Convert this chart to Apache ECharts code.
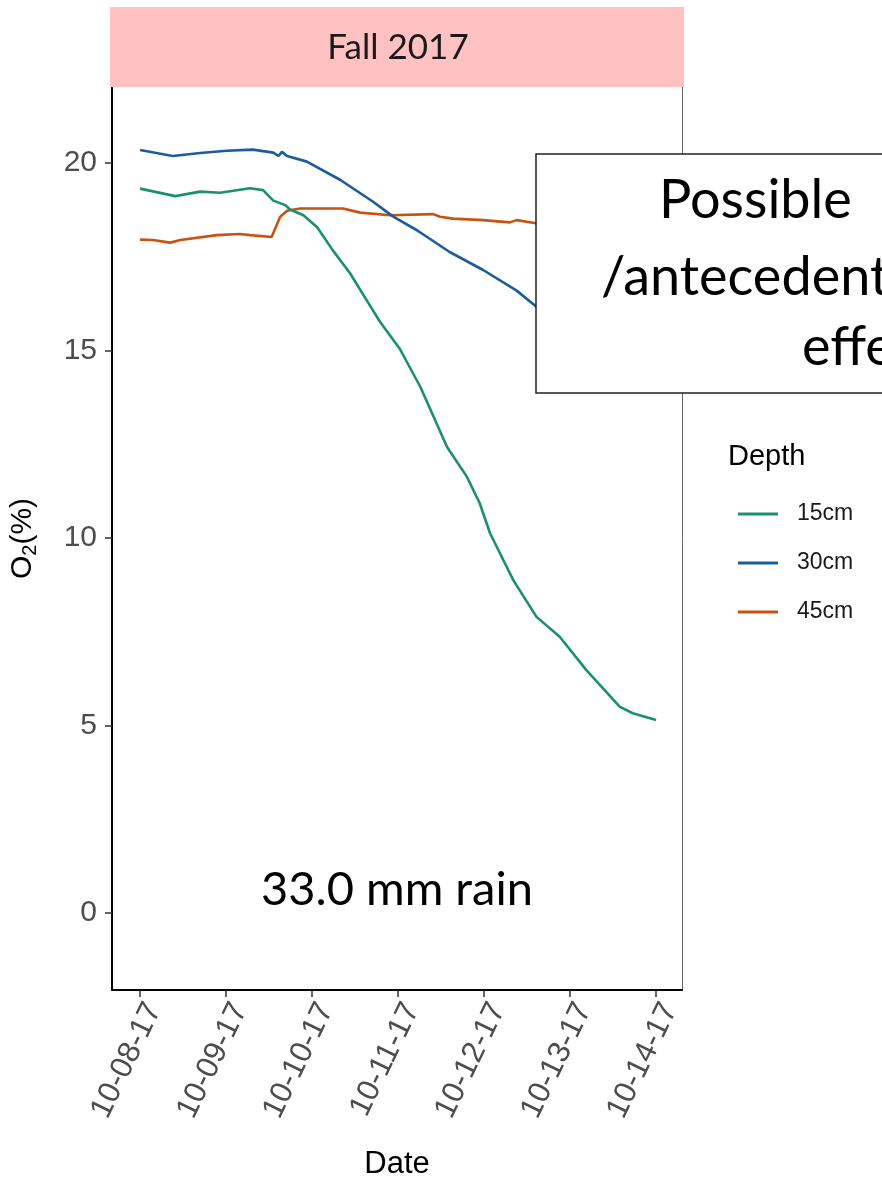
<!DOCTYPE html>
<html>
<head>
<meta charset="utf-8">
<script src="https://cdn.jsdelivr.net/npm/echarts@6/dist/echarts.min.js"></script>
<style>
  html, body { margin: 0; padding: 0; background: #fff; }
  #chart { width: 882px; height: 1182px; }
</style>
</head>
<body>
<div id="chart"></div>
<script>
// tick labels (days after 10-08-17)
const dateLabels = ['10-08-17', '10-09-17', '10-10-17', '10-11-17', '10-12-17', '10-13-17', '10-14-17'];
const dateTicks = [0, 1, 2, 3, 4, 5, 6];
const o2Ticks = [0, 5, 10, 15, 20];

// 15cm
const days15 = [0.00, 0.41, 0.70, 0.93, 1.28, 1.43, 1.55, 1.69, 1.74, 1.90, 2.06, 2.24, 2.44, 2.62, 2.79, 3.02, 3.26, 3.57, 3.80, 3.95, 4.07, 4.34, 4.61, 4.88, 5.19, 5.58, 5.73, 6.00];
const o2_15 = [19.32, 19.12, 19.24, 19.21, 19.33, 19.28, 19.00, 18.88, 18.77, 18.61, 18.29, 17.68, 17.07, 16.40, 15.77, 15.05, 14.03, 12.43, 11.64, 10.93, 10.13, 8.88, 7.90, 7.37, 6.48, 5.50, 5.33, 5.15];

// 30cm
const days30 = [0.00, 0.38, 0.70, 1.01, 1.31, 1.55, 1.61, 1.65, 1.71, 1.94, 2.33, 2.71, 2.94, 3.22, 3.60, 3.99, 4.38, 4.62];
const o2_30 = [20.35, 20.19, 20.27, 20.33, 20.36, 20.28, 20.19, 20.30, 20.19, 20.04, 19.55, 18.97, 18.58, 18.21, 17.63, 17.15, 16.60, 16.15];

// 45cm
const days45 = [0.00, 0.15, 0.35, 0.47, 0.89, 1.16, 1.28, 1.53, 1.63, 1.71, 1.86, 2.36, 2.56, 2.91, 3.41, 3.49, 3.64, 3.99, 4.30, 4.38, 4.62];
const o2_45 = [17.96, 17.95, 17.88, 17.95, 18.08, 18.11, 18.08, 18.03, 18.57, 18.73, 18.79, 18.79, 18.68, 18.61, 18.64, 18.57, 18.52, 18.48, 18.42, 18.48, 18.39];

const depthNames = ['15cm', '30cm', '45cm'];
const depthColors = ['#1b9070', '#1d5c9c', '#c9520f'];

function pairs(xs, ys) {
  return xs.map((x, i) => [x, ys[i]]);
}

const chart = echarts.init(document.getElementById('chart'));

const sansFont = '"Liberation Sans", Arial, sans-serif';
const calibriLike = 'Lato, "Open Sans", sans-serif';

chart.setOption({
  backgroundColor: '#fff',
  animation: false,
  grid: { left: 112, right: 200, top: 87, bottom: 192, outerBoundsMode: 'none', containLabel: false },
  xAxis: {
    type: 'value',
    min: -0.326,
    max: 6.302,
    name: 'Date',
    nameLocation: 'middle',
    nameGap: 159,
    nameTextStyle: { fontFamily: sansFont, fontSize: 31, color: '#000' },
    splitLine: { show: false },
    axisLine: { show: true, onZero: false, lineStyle: { color: '#000', width: 2 } },
    axisTick: { show: true, customValues: dateTicks, length: 7, lineStyle: { color: '#333', width: 1.5 } },
    axisLabel: {
      customValues: dateTicks,
      formatter: v => dateLabels[Math.round(v)],
      rotate: 64,
      align: 'right',
      verticalAlign: 'top',
      margin: 8,
      fontFamily: sansFont,
      fontSize: 31,
      color: '#4d4d4d'
    }
  },
  yAxis: [
    {
      type: 'value',
      min: -2.05,
      max: 22.03,
      name: '{o|O}{s|2}{o|(%)}',
      nameLocation: 'middle',
      nameRotate: 90,
      nameGap: 72,
      nameTextStyle: {
        rich: {
          o: { fontFamily: sansFont, fontSize: 30, color: '#000' },
          s: { fontFamily: sansFont, fontSize: 20, color: '#000', padding: [14, 0, 0, 0] }
        }
      },
      splitLine: { show: false },
      axisLine: { show: true, onZero: false, lineStyle: { color: '#000', width: 2 } },
      axisTick: { show: true, customValues: o2Ticks, length: 7, lineStyle: { color: '#333', width: 1.5 } },
      axisLabel: {
        customValues: o2Ticks,
        margin: 15,
        fontFamily: sansFont,
        fontSize: 30,
        color: '#4d4d4d'
      }
    },
    {
      type: 'value',
      position: 'right',
      min: -2.05,
      max: 22.03,
      splitLine: { show: false },
      axisLine: { show: true, onZero: false, lineStyle: { color: '#666', width: 1 } },
      axisTick: { show: false },
      axisLabel: { show: false }
    }
  ],
  legend: {
    orient: 'vertical',
    left: 733,
    top: 497,
    icon: 'rect',
    itemWidth: 40,
    itemHeight: 3,
    itemGap: 25,
    data: depthNames,
    textStyle: { fontFamily: sansFont, fontSize: 23, lineHeight: 24, color: '#1a1a1a', padding: [0, 0, 0, 14] }
  },
  series: [
    { name: depthNames[0], type: 'line', data: pairs(days15, o2_15) },
    { name: depthNames[1], type: 'line', data: pairs(days30, o2_30) },
    { name: depthNames[2], type: 'line', data: pairs(days45, o2_45) }
  ].map((s, i) => Object.assign(s, {
    symbol: 'none',
    showSymbol: false,
    color: depthColors[i],
    lineStyle: { color: depthColors[i], width: 2.6 },
    z: 3 - i
  })),
  graphic: [
    // facet strip
    { type: 'rect', shape: { x: 110, y: 7, width: 574, height: 80 }, style: { fill: '#ffc1c1' }, z: 50 },
    { type: 'text', x: 398, y: 48, style: { text: 'Fall 2017', font: '35px ' + calibriLike, fill: '#1a1a1a', align: 'center', verticalAlign: 'middle' }, z: 51 },
    // annotation
    { type: 'text', x: 397, y: 890, style: { text: '33.0 mm rain', font: '47px ' + calibriLike, fill: '#000', align: 'center', verticalAlign: 'middle' }, z: 51 },
    // legend title
    { type: 'text', x: 728, y: 457, style: { text: 'Depth', font: '29px ' + sansFont, fill: '#000', align: 'left', verticalAlign: 'middle' }, z: 51 },
    // overlaid text box
    { type: 'rect', shape: { x: 536, y: 154, width: 380, height: 239 }, style: { fill: '#fff', stroke: '#222', lineWidth: 1.5 }, z: 100 },
    { type: 'text', x: 659, y: 201, style: { text: 'Possible', font: '54px ' + calibriLike, fill: '#000', align: 'left', verticalAlign: 'middle' }, z: 101 },
    { type: 'text', x: 601, y: 278, style: { text: '/antecedent', font: '54px ' + calibriLike, fill: '#000', align: 'left', verticalAlign: 'middle' }, z: 101 },
    { type: 'text', x: 802, y: 348, style: { text: 'effect', font: '54px ' + calibriLike, fill: '#000', align: 'left', verticalAlign: 'middle' }, z: 101 }
  ]
});
</script>
</body>
</html>
